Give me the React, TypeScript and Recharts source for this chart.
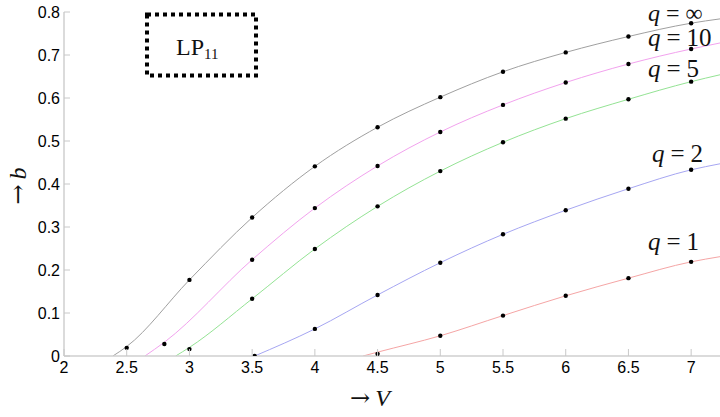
import React from 'react'
import { ComposedChart, Line, Scatter, XAxis, YAxis } from 'recharts'

const vTicks: number[] = [2, 2.5, 3, 3.5, 4, 4.5, 5, 5.5, 6, 6.5, 7]
const bTicks: number[] = [0, 0.1, 0.2, 0.3, 0.4, 0.5, 0.6, 0.7, 0.8]

// computed points (dots)
const dotsInf = [
  { V: 2.5, b: 0.019 }, { V: 3, b: 0.177 }, { V: 3.5, b: 0.322 }, { V: 4, b: 0.441 },
  { V: 4.5, b: 0.532 }, { V: 5, b: 0.602 }, { V: 5.5, b: 0.661 }, { V: 6, b: 0.706 },
  { V: 6.5, b: 0.743 }, { V: 7, b: 0.774 }
]
const dotsQ10 = [
  { V: 2.8, b: 0.028 }, { V: 3.5, b: 0.224 }, { V: 4, b: 0.344 }, { V: 4.5, b: 0.442 },
  { V: 5, b: 0.521 }, { V: 5.5, b: 0.584 }, { V: 6, b: 0.636 }, { V: 6.5, b: 0.679 },
  { V: 7, b: 0.714 }
]
const dotsQ5 = [
  { V: 3, b: 0.016 }, { V: 3.5, b: 0.133 }, { V: 4, b: 0.249 }, { V: 4.5, b: 0.348 },
  { V: 5, b: 0.43 }, { V: 5.5, b: 0.497 }, { V: 6, b: 0.552 }, { V: 6.5, b: 0.597 },
  { V: 7, b: 0.638 }
]
const dotsQ2 = [
  { V: 3.52, b: 0 }, { V: 4, b: 0.063 }, { V: 4.5, b: 0.142 }, { V: 5, b: 0.217 },
  { V: 5.5, b: 0.283 }, { V: 6, b: 0.339 }, { V: 6.5, b: 0.389 }, { V: 7, b: 0.433 }
]
const dotsQ1 = [
  { V: 4.5, b: 0.005 }, { V: 5, b: 0.047 }, { V: 5.5, b: 0.094 }, { V: 6, b: 0.14 },
  { V: 6.5, b: 0.181 }, { V: 7, b: 0.219 }
]

// continuous curves
const curveInf = [
  { V: 2.39, b: 0 }, { V: 2.5, b: 0.022 }, { V: 3, b: 0.177 }, { V: 3.5, b: 0.322 },
  { V: 4, b: 0.441 }, { V: 4.5, b: 0.532 }, { V: 5, b: 0.602 }, { V: 5.5, b: 0.661 },
  { V: 6, b: 0.706 }, { V: 6.5, b: 0.743 }, { V: 7, b: 0.774 }, { V: 7.23, b: 0.784 }
]
const curveQ10 = [
  { V: 2.645, b: 0 }, { V: 2.8, b: 0.032 }, { V: 3.5, b: 0.224 }, { V: 4, b: 0.344 },
  { V: 4.5, b: 0.442 }, { V: 5, b: 0.521 }, { V: 5.5, b: 0.584 }, { V: 6, b: 0.636 },
  { V: 6.5, b: 0.679 }, { V: 7, b: 0.714 }, { V: 7.23, b: 0.728 }
]
const curveQ5 = [
  { V: 2.89, b: 0 }, { V: 3, b: 0.02 }, { V: 3.5, b: 0.133 }, { V: 4, b: 0.249 },
  { V: 4.5, b: 0.348 }, { V: 5, b: 0.43 }, { V: 5.5, b: 0.497 }, { V: 6, b: 0.552 },
  { V: 6.5, b: 0.597 }, { V: 7, b: 0.638 }, { V: 7.23, b: 0.654 }
]
const curveQ2 = [
  { V: 3.52, b: 0 }, { V: 4, b: 0.063 }, { V: 4.5, b: 0.142 }, { V: 5, b: 0.217 },
  { V: 5.5, b: 0.283 }, { V: 6, b: 0.339 }, { V: 6.5, b: 0.389 }, { V: 7, b: 0.433 },
  { V: 7.23, b: 0.447 }
]
const curveQ1 = [
  { V: 4.384, b: 0 }, { V: 4.5, b: 0.009 }, { V: 5, b: 0.047 }, { V: 5.5, b: 0.094 },
  { V: 6, b: 0.14 }, { V: 6.5, b: 0.181 }, { V: 7, b: 0.219 }, { V: 7.23, b: 0.231 }
]

const tickFont = '"Liberation Sans", Arial, sans-serif'
const mathFont = '"Liberation Serif", "Times New Roman", serif'
const arrowFont = '"DejaVu Serif", "DejaVu Sans", serif'

const YTick = (props: any) => {
  const { x, y, payload } = props
  return (
    <g>
      <line x1={x} x2={x + 6} y1={y} y2={y} stroke="#c8c8c8" />
      <text x={x - 4} y={y + 5.5} textAnchor="end" fontSize={16} fontFamily={tickFont} fill="#000">
        {payload.value}
      </text>
    </g>
  )
}

const XTick = (props: any) => {
  const { x, y, payload } = props
  return (
    <g>
      <line x1={x} x2={x} y1={y} y2={y - 7} stroke="#c8c8c8" />
      <text x={x} y={y + 17} textAnchor="middle" fontSize={16} fontFamily={tickFont} fill="#000">
        {payload.value}
      </text>
    </g>
  )
}

const Dot = (props: any) => <circle cx={props.cx} cy={props.cy} r={2.2} fill="#000" />

const qLabel = (x: number, y: number, rhs: string, size = 25) => (
  <text x={x} y={y} fontSize={size} fontFamily={mathFont} fill="#111">
    <tspan fontStyle="italic">q</tspan>
    <tspan dx={6}>=</tspan>
    <tspan dx={6}>{rhs}</tspan>
  </text>
)

const App: React.FC = () => {
  return (
    <div style={{ position: 'absolute', left: 0, top: 0, width: 720, height: 417, background: '#fff' }}>
      <ComposedChart width={720} height={417} margin={{ top: 12, right: 0, bottom: 0, left: 0 }}>
        <XAxis
          dataKey="V"
          type="number"
          domain={[2, 7.23]}
          ticks={vTicks}
          interval={0}
          allowDataOverflow
          height={61}
          tickSize={0}
          tickMargin={0}
          tickLine={false}
          axisLine={{ stroke: '#cfcfcf', strokeWidth: 1.5 }}
          tick={<XTick />}
        />
        <YAxis
          dataKey="b"
          type="number"
          domain={[0, 0.8]}
          ticks={bTicks}
          interval={0}
          allowDataOverflow
          width={64}
          tickSize={0}
          tickMargin={0}
          tickLine={false}
          axisLine={{ stroke: '#cfcfcf', strokeWidth: 1.5 }}
          tick={<YTick />}
        />
        <Line data={curveInf} dataKey="b" type="monotone" stroke="#a0a0a0" strokeWidth={1} dot={false} isAnimationActive={false} />
        <Line data={curveQ10} dataKey="b" type="monotone" stroke="#f2a2ee" strokeWidth={1} dot={false} isAnimationActive={false} />
        <Line data={curveQ5} dataKey="b" type="monotone" stroke="#94e394" strokeWidth={1} dot={false} isAnimationActive={false} />
        <Line data={curveQ2} dataKey="b" type="monotone" stroke="#a6a6f2" strokeWidth={1} dot={false} isAnimationActive={false} />
        <Line data={curveQ1} dataKey="b" type="monotone" stroke="#f5a5a5" strokeWidth={1} dot={false} isAnimationActive={false} />
        <Scatter data={dotsInf} dataKey="b" shape={<Dot />} isAnimationActive={false} />
        <Scatter data={dotsQ10} dataKey="b" shape={<Dot />} isAnimationActive={false} />
        <Scatter data={dotsQ5} dataKey="b" shape={<Dot />} isAnimationActive={false} />
        <Scatter data={dotsQ2} dataKey="b" shape={<Dot />} isAnimationActive={false} />
        <Scatter data={dotsQ1} dataKey="b" shape={<Dot />} isAnimationActive={false} />
      </ComposedChart>
      <svg width={720} height={417} style={{ position: 'absolute', left: 0, top: 0, pointerEvents: 'none' }}>
        <rect x={147} y={14.5} width={109} height={61} fill="none" stroke="#000" strokeWidth={4} strokeDasharray="4 4" />
        <text x={176} y={55} fontSize={24} fontFamily={mathFont} fill="#111">
          LP<tspan fontSize={15} dy={4}>11</tspan>
        </text>
        {qLabel(648, 21, '∞', 24)}
        {qLabel(648, 46, '10')}
        {qLabel(648, 77, '5')}
        {qLabel(652, 162, '2')}
        {qLabel(648, 250, '1')}
        <text x={370} y={406} textAnchor="middle" fontSize={24} fill="#111">
          <tspan fontFamily={arrowFont}>→</tspan>
          <tspan dx={5} fontStyle="italic" fontFamily={mathFont}>V</tspan>
        </text>
        <text
          x={0}
          y={0}
          transform="translate(26 186) rotate(-90)"
          textAnchor="middle"
          fontSize={24}
          fill="#111"
        >
          <tspan fontFamily={arrowFont}>→</tspan>
          <tspan dx={5} fontStyle="italic" fontFamily={mathFont}>b</tspan>
        </text>
      </svg>
    </div>
  )
}

export default App
